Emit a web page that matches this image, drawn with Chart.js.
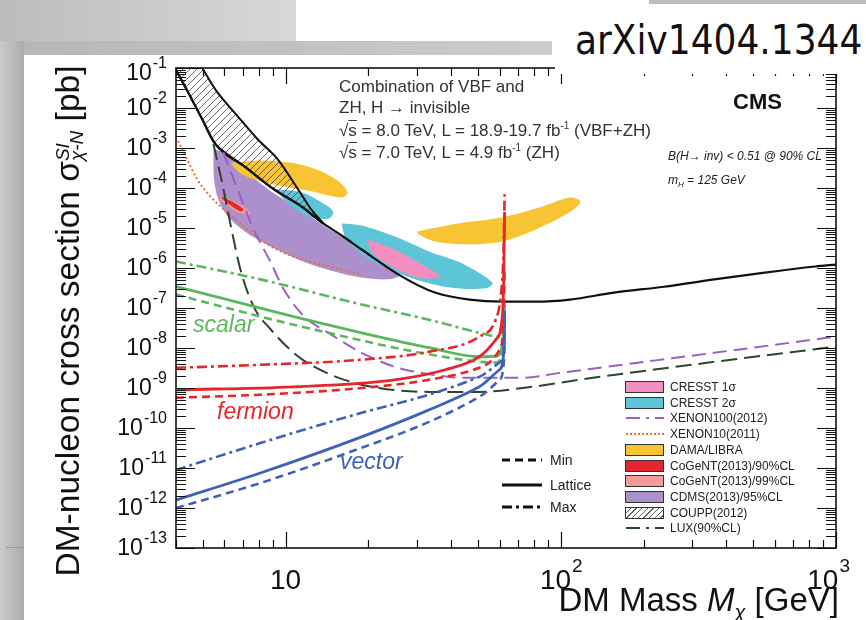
<!DOCTYPE html>
<html>
<head>
<meta charset="utf-8">
<script src="https://cdn.jsdelivr.net/npm/chart.js@4.4.0/dist/chart.umd.min.js"></script>
<style>
body{margin:0;width:866px;height:620px;position:relative;overflow:hidden;background:#fff;font-family:"Liberation Sans",Arial,sans-serif;color:#222;}
.abs{position:absolute;white-space:nowrap;}
.note{font-size:17px;color:#333;}
.lab{font-style:italic;font-size:23px;}
.leg{position:absolute;font-size:12px;color:#222;white-space:nowrap;}
.sw{position:absolute;width:37px;height:10px;border:1px solid #333;}
</style>
</head>
<body>
<div class="abs" style="left:0;top:0;width:296px;height:41px;background:linear-gradient(90deg,#bcbcbc,#d8d8d8)"></div>
<div class="abs" style="left:0;top:41px;width:552px;height:14px;background:linear-gradient(90deg,#b6b6b6,#cccccc)"></div>
<div class="abs" style="left:0;top:41px;width:24px;height:579px;background:linear-gradient(90deg,#cacaca,#acacac)"></div>
<div class="abs" style="left:6px;top:547px;width:18px;height:1px;background:#999"></div>

<canvas id="c" width="866" height="620" class="abs" style="left:0;top:0"></canvas>

<div class="abs" style="left:555px;top:0;width:311px;height:74px;background:#fff"></div>
<div class="abs" style="left:649px;top:0;width:217px;height:4px;background:#bdbdbd"></div>
<div class="abs" style="left:575px;top:17px;font-family:'DejaVu Sans Condensed','DejaVu Sans',sans-serif;font-stretch:condensed;font-size:40px;color:#111;">arXiv1404.1344</div>

<div class="abs note" style="left:339px;top:77px;">Combination of VBF and</div>
<div class="abs note" style="left:339px;top:98px;">ZH, H &rarr; invisible</div>
<div class="abs note" style="left:339px;top:120px;">&radic;<span style="text-decoration:overline">s</span> = 8.0 TeV, L = 18.9-19.7 fb<sup style="font-size:10px">-1</sup> (VBF+ZH)</div>
<div class="abs note" style="left:339px;top:142px;">&radic;<span style="text-decoration:overline">s</span> = 7.0 TeV, L = 4.9 fb<sup style="font-size:10px">-1</sup> (ZH)</div>
<div class="abs" style="left:733px;top:89px;font-size:22px;font-weight:bold;color:#111;">CMS</div>
<div class="abs" style="left:668px;top:149px;font-size:12px;font-style:italic;color:#222;">B(H&rarr; inv) &lt; 0.51 @ 90% CL</div>
<div class="abs" style="left:668px;top:173px;font-size:12px;font-style:italic;color:#222;">m<sub style="font-size:8px">H</sub> = 125 GeV</div>

<div class="abs lab" style="left:193px;top:311px;color:#5cb85c;">scalar</div>
<div class="abs lab" style="left:217px;top:398px;color:#e8262a;">fermion</div>
<div class="abs lab" style="left:340px;top:448px;color:#3f62b8;">vector</div>

<div class="abs" style="left:-212px;top:303px;width:560px;text-align:center;font-size:33.5px;line-height:36px;color:#111;transform:rotate(-90deg);">DM-nucleon cross section &sigma;<span style="display:inline-block;vertical-align:middle;line-height:14px;font-size:19px;font-style:italic;text-align:left;"><span style="display:block;">SI</span><span style="display:block;">&chi;-N</span></span> [pb]</div>
<div class="abs" style="right:27px;top:582px;font-size:33px;line-height:36px;color:#111;">DM Mass <i>M</i><sub style="font-size:20px;font-style:italic">&chi;</sub> [GeV]</div>

<div id="styleLegend"></div>
<div id="expLegend"></div>

<script>
// ---- data: [mass GeV, cross section pb] ----
const scalarMin = [[4,2.17e-7],[8.1,6.1e-8],[14.3,2.4e-8],[24.9,1.02e-8],[43.9,5.1e-9],[58,4.3e-9],[61.5,9.1e-9],[62.3,5e-8],[62.5,9e-8]];
const scalarLattice = [[4,3.44e-7],[6.15,1.62e-7],[10.7,6.1e-8],[18.9,2.4e-8],[33.2,1.02e-8],[50.6,6.05e-9],[58.9,6.4e-9],[61.6,1.5e-8],[62.3,4e-8],[62.5,1e-7]];
const scalarMax = [[4,1.46e-6],[8.1,5.2e-7],[18.9,1.22e-7],[33.2,5.1e-8],[50.6,2.4e-8],[59.9,1.92e-8],[62,4e-8],[62.5,1.2e-7]];

const fermionMin = [[4,5.7e-10],[8.1,6.8e-10],[18.9,1e-9],[33.2,1.6e-9],[50.6,3.2e-9],[59.9,9.1e-9],[62,5.1e-8],[62.5,1e-6]];
const fermionLattice = [[4,9e-10],[10.7,1.07e-9],[24.9,1.6e-9],[38,2.86e-9],[50.6,6.05e-9],[58,1.6e-8],[61.5,7.7e-8],[62.2,1.6e-6],[62.5,2.5e-5]];
const fermionMax = [[4,3.2e-9],[8.1,3.8e-9],[18.9,5.1e-9],[33.2,8.1e-9],[50.6,1.92e-8],[58,5.1e-8],[60.5,1.93e-7],[61.8,1.6e-6],[62.3,1.5e-5],[62.5,7e-5]];

const vectorMin = [[4,1e-12],[8.1,4.2e-12],[18.9,3.2e-11],[33.2,1.42e-10],[50.6,6e-10],[59.9,1.6e-9],[62.3,6e-9],[62.5,3e-8]];
const vectorLattice = [[4,1.58e-12],[8.1,7.5e-12],[18.9,6e-11],[33.2,2.84e-10],[50.6,1.07e-9],[59.9,2.86e-9],[62.3,1.08e-8],[62.5,8e-8]];
const vectorMax = [[4,8.9e-12],[8.1,4.2e-11],[18.9,2.4e-10],[33.2,6.8e-10],[50.6,1.9e-9],[59.9,4.3e-9],[62.3,1.5e-8],[62.5,1e-7]];

const luxLimit = [[5.47,1.25e-3],[5.9,1.24e-4],[6.31,1.23e-5],[6.86,9.1e-7],[7.66,1.08e-7],[8.84,2.9e-8],[10.7,7.6e-9],[12.7,3.4e-9],[16.4,1.6e-9],[21.8,1e-9],[33.2,8e-10],[50.6,8e-10],[72.8,1e-9],[131,1.8e-9],[361,4.5e-9],[1000,1.08e-8]];
const xenon100Limit = [[5.94,7.9e-4],[6.69,9.3e-5],[7.66,9.2e-6],[8.84,1.37e-6],[9.86,2.9e-7],[11.7,6.1e-8],[14.3,2.4e-8],[18.9,7.6e-9],[24.9,3.4e-9],[34.9,2.1e-9],[43.9,1.8e-9],[72.8,1.8e-9],[100,2.4e-9],[361,7.6e-9],[1000,1.92e-8]];
const xenon10Limit = [[4.07,1.5e-3],[4.39,5.2e-4],[4.78,1.65e-4],[5.33,6.2e-5],[6.15,2.46e-5],[7.28,9.2e-6],[8.84,3.5e-6],[10.7,1.94e-6],[14.3,1.09e-6],[18.9,6.9e-7]];
const couppLimit = [[4,9e-2],[4.5,1.99e-2],[5.02,4.7e-3],[5.56,1.25e-3],[7.16,3.3e-4],[9.07,9.3e-5],[11.4,3.5e-5],[13.7,1.3e-5],[16,6.5e-6],[18.9,2.9e-6],[26.5,6.1e-7],[34.9,2.43e-7],[46.6,1.62e-7],[61.5,1.44e-7],[81.2,1.44e-7],[108,1.62e-7],[156,2.43e-7],[237,3.4e-7],[361,5.2e-7],[551,7.7e-7],[840,1.09e-6],[1000,1.22e-6]];

const couppRegion = [[4.98,1e-1],[5.65,2.5e-2],[6.69,6.3e-3],[7.92,1.66e-3],[9.37,5.2e-4],[11.1,9.3e-5],[12.4,2.9e-5],[13.7,1.3e-5],[11.4,3.5e-5],[9.07,9.3e-5],[7.16,3.3e-4],[5.56,1.25e-3],[5.02,4.7e-3],[4.5,1.99e-2],[4,9e-2],[4,1e-1],[4.98,1e-1]];
const cdmsRegion = [[5.47,9.3e-4],[5.9,7.9e-4],[7.16,2.6e-4],[9.07,7.4e-5],[11.4,2.9e-5],[13.7,1.16e-5],[16.6,5.2e-6],[20.5,2.2e-6],[25.4,1.03e-6],[26,6.5e-7],[23.3,5.2e-7],[18.9,5.8e-7],[16,7.3e-7],[12.4,1.22e-6],[9.62,2.6e-6],[7.47,6.5e-6],[6.2,1.85e-5],[5.7,5.2e-5],[5.5,1.65e-4],[5.47,9.3e-4]];
const damaLowRegion = [[6.31,4.2e-4],[8.12,4.9e-4],[10.7,4.2e-4],[13.5,2.6e-4],[15.6,1.47e-4],[16.8,7.8e-5],[16,5.8e-5],[12.4,8.3e-5],[10.2,1.04e-4],[8.12,1.47e-4],[6.86,2.3e-4],[6.31,4.2e-4]];
const damaHighRegion = [[30,8.2e-6],[40.3,1.23e-5],[61.5,1.85e-5],[86.2,3.5e-5],[108,5.8e-5],[118,4.6e-5],[108,2.5e-5],[81.2,9.2e-6],[61.5,4.6e-6],[46.6,3.9e-6],[34.9,4.6e-6],[30.5,6.9e-6],[30,8.2e-6]];
const cresst2LowRegion = [[9.22,9.3e-5],[11.4,7.8e-5],[13.5,4.4e-5],[14.9,2.6e-5],[14.4,1.74e-5],[12.4,1.85e-5],[10.9,2.9e-5],[9.86,5.2e-5],[9.22,9.3e-5]];
const cresst2HighRegion = [[16,1.3e-5],[18.9,1.16e-5],[24.9,6.2e-6],[33.2,2.6e-6],[43.9,1.3e-6],[56.5,4.3e-7],[53.3,3.1e-7],[40.3,3.2e-7],[30.5,4.9e-7],[24.9,8.2e-7],[19.7,1.83e-6],[16.6,5.2e-6],[16,1.3e-5]];
const cresst1Region = [[19.7,5.2e-6],[24.9,2.9e-6],[31.3,1.22e-6],[36.5,6.1e-7],[31.3,5.5e-7],[25.4,9.2e-7],[20.9,2.2e-6],[19.7,5.2e-6]];
const cogent99Region = [[5.75,6.6e-5],[6.41,4.9e-5],[7.28,2.9e-5],[7.47,2.2e-5],[6.86,2.3e-5],[6.2,3.5e-5],[5.8,4.9e-5],[5.75,6.6e-5]];
const cogent90Region = [[5.85,6.2e-5],[6.58,4.1e-5],[7.04,2.9e-5],[6.86,2.6e-5],[6.31,3.7e-5],[5.9,5.2e-5],[5.85,6.2e-5]];

// ---- axes ----
const xMin = 4, xMax = 1000;
const yMin = 1e-13, yMax = 1e-1;
const yTickExps = [-1,-2,-3,-4,-5,-6,-7,-8,-9,-10,-11,-12,-13];
const xTickValues = [10, 100, 1000];
const xTickLabels = [['10',''],['10','2'],['10','3']];

const legendLabels = ['CRESST 1\u03c3','CRESST 2\u03c3','XENON100(2012)','XENON10(2011)','DAMA/LIBRA','CoGeNT(2013)/90%CL','CoGeNT(2013)/99%CL','CDMS(2013)/95%CL','COUPP(2012)','LUX(90%CL)'];
const styleLabels = ['Min','Lattice','Max'];

// ---- colours / styles ----
const green = '#5cb85c', red = '#e8262a', blue = '#3f62b8';
const dashMin = [8,5], dashMax = [10,4,3,4];

function pts(arr) { return arr.map(p => ({x: p[0], y: p[1]})); }

function curve(label, arr, color, width, dash, order) {
    return {
        label: label, data: pts(arr), borderColor: color, borderWidth: width,
        borderDash: dash, pointRadius: 0, fill: false, order: order,
        cubicInterpolationMode: 'monotone'
    };
}

function region(label, arr, color, order, border) {
    return {
        label: label, data: pts(arr), backgroundColor: color,
        borderColor: border || 'rgba(0,0,0,0)', borderWidth: border ? 2 : 0,
        pointRadius: 0, fill: 'shape', tension: 0.3, order: order
    };
}

// hatch for COUPP
const hc = document.createElement('canvas');
hc.width = 7; hc.height = 7;
const hx = hc.getContext('2d');
hx.strokeStyle = '#444'; hx.lineWidth = 0.8;
hx.beginPath();
hx.moveTo(0, 7); hx.lineTo(7, 0);
hx.moveTo(-1, 1); hx.lineTo(1, -1);
hx.moveTo(6, 8); hx.lineTo(8, 6);
hx.stroke();
const hatch = document.getElementById('c').getContext('2d').createPattern(hc, 'repeat');

const datasets = [
    curve('vector max', vectorMax, blue, 2.6, dashMax, 1),
    curve('vector min', vectorMin, blue, 2.6, dashMin, 1),
    curve('vector', vectorLattice, blue, 2.8, [], 1),
    curve('fermion max', fermionMax, red, 2.6, dashMax, 1),
    curve('fermion min', fermionMin, red, 2.6, dashMin, 1),
    curve('fermion', fermionLattice, red, 2.8, [], 1),
    curve('scalar max', scalarMax, green, 2.6, dashMax, 1),
    curve('scalar min', scalarMin, green, 2.6, dashMin, 1),
    curve('scalar', scalarLattice, green, 2.8, [], 1),
    curve('LUX(90%CL)', luxLimit, '#2c452c', 2, [16,7], 2),
    curve('XENON100(2012)', xenon100Limit, '#9b5fc2', 2, [14,7], 2),
    curve('XENON10(2011)', xenon10Limit, '#ec6a3c', 2, [2,2.5], 2),
    curve('COUPP limit', couppLimit, '#111', 2.2, [], 2),
    region('COUPP(2012)', couppRegion, hatch, 3, '#111'),
    region('CoGeNT(2013)/90%CL', cogent90Region, '#e52530', 4),
    region('CoGeNT(2013)/99%CL', cogent99Region, '#f49a9a', 5),
    region('CRESST 1\u03c3', cresst1Region, '#f28fc0', 6),
    region('CRESST 2\u03c3 high', cresst2HighRegion, '#5cc6d8', 7),
    region('CRESST 2\u03c3 low', cresst2LowRegion, '#5cc6d8', 7),
    region('DAMA/LIBRA high', damaHighRegion, '#f8c434', 8),
    region('DAMA/LIBRA low', damaLowRegion, '#f8c434', 8),
    region('CDMS(2013)/95%CL', cdmsRegion, '#ab90cc', 9)
];

// frame, inward ticks and tick labels
const axisDecor = {
    id: 'axisDecor',
    afterDatasetsDraw(chart) {
        const ctx = chart.ctx, a = chart.chartArea;
        const xs = chart.scales.x, ys = chart.scales.y;
        ctx.save();
        ctx.strokeStyle = '#111';
        ctx.lineWidth = 1.2;
        ctx.beginPath();
        for (let e = -13; e <= -1; e++) {
            for (let k = 1; k <= 9; k++) {
                if (e === -1 && k > 1) break;
                const py = Math.round(ys.getPixelForValue(k * Math.pow(10, e))) + 0.5;
                const len = k === 1 ? 19 : 10;
                ctx.moveTo(a.left, py); ctx.lineTo(a.left + len, py);
                ctx.moveTo(a.right, py); ctx.lineTo(a.right - len, py);
            }
        }
        for (let e = 0; e <= 3; e++) {
            for (let k = 1; k <= 9; k++) {
                const v = k * Math.pow(10, e);
                if (v < xMin || v > xMax) continue;
                const px = Math.round(xs.getPixelForValue(v)) + 0.5;
                const len = k === 1 ? 16 : 8;
                ctx.moveTo(px, a.bottom); ctx.lineTo(px, a.bottom - len);
                ctx.moveTo(px, a.top); ctx.lineTo(px, a.top + len);
            }
        }
        ctx.stroke();
        ctx.lineWidth = 1.6;
        ctx.strokeRect(a.left, a.top, a.right - a.left, a.bottom - a.top);

        ctx.fillStyle = '#111';
        ctx.textBaseline = 'middle';
        const right = 167;
        yTickExps.forEach(e => {
            let py = ys.getPixelForValue(Math.pow(10, e));
            if (e === -1) py += 5;
            ctx.font = '16px "Liberation Sans", Arial';
            const es = String(e);
            const we = ctx.measureText(es).width;
            ctx.textAlign = 'left';
            ctx.fillText(es, right - we, py - 9);
            ctx.font = '23px "Liberation Sans", Arial';
            ctx.textAlign = 'right';
            ctx.fillText('10', right - we - 1, py + 1);
        });
        xTickValues.forEach((v, i) => {
            const px = xs.getPixelForValue(v);
            const [b, ex] = xTickLabels[i];
            ctx.font = '28px "Liberation Sans", Arial';
            const wb = ctx.measureText(b).width;
            ctx.font = '19px "Liberation Sans", Arial';
            const we = ex ? ctx.measureText(ex).width : 0;
            let left = px - (wb + we) / 2;
            if (left + wb + we > 849) left = 849 - wb - we;
            ctx.textAlign = 'left';
            ctx.font = '28px "Liberation Sans", Arial';
            ctx.fillText(b, left, 581);
            if (ex) {
                ctx.font = '19px "Liberation Sans", Arial';
                ctx.fillText(ex, left + wb + 1, 567);
            }
        });
        ctx.restore();
    }
};

new Chart(document.getElementById('c'), {
    type: 'line',
    data: { datasets: datasets },
    options: {
        responsive: false,
        animation: false,
        devicePixelRatio: 1,
        layout: { padding: { left: 176, top: 68, right: 30, bottom: 72 } },
        scales: {
            x: { type: 'logarithmic', min: xMin, max: xMax, display: false },
            y: { type: 'logarithmic', min: yMin, max: yMax, display: false }
        },
        plugins: { legend: { display: false }, tooltip: { enabled: false } }
    },
    plugins: [axisDecor]
});

// ---- legends (HTML) ----
const legendSwatches = [
    {fill: '#f28fc0'}, {fill: '#5cc6d8'},
    {line: '#9b5fc2', dash: '14 6 3 6', w: 2}, {line: '#ec6a3c', dash: '2 2', w: 2},
    {fill: '#f8c434'}, {fill: '#e52530'}, {fill: '#f49a9a'}, {fill: '#ab90cc'},
    {hatch: true}, {line: '#2c452c', dash: '14 6 3 6', w: 2}
];
let html = '';
legendLabels.forEach((t, i) => {
    const cy = 387 + i * 15.7;
    const s = legendSwatches[i];
    if (s.fill) {
        html += `<div class="sw" style="left:625px;top:${cy - 6}px;background:${s.fill}"></div>`;
    } else if (s.hatch) {
        html += `<div class="sw" style="left:625px;top:${cy - 6}px;background:repeating-linear-gradient(135deg,#fff 0 3px,#666 3px 4px)"></div>`;
    } else {
        html += `<svg class="abs" style="left:625px;top:${cy - 5}px" width="40" height="10"><line x1="1" y1="5" x2="39" y2="5" stroke="${s.line}" stroke-width="${s.w}" stroke-dasharray="${s.dash}"/></svg>`;
    }
    html += `<div class="leg" style="left:670px;top:${cy - 7}px">${t}</div>`;
});
document.getElementById('expLegend').innerHTML = html;

const styleDash = ['8 5', '', '10 4 3 4'];
const styleY = [460, 485, 507];
let html2 = '';
styleLabels.forEach((t, i) => {
    html2 += `<svg class="abs" style="left:500px;top:${styleY[i] - 5}px" width="44" height="10"><line x1="2" y1="5" x2="42" y2="5" stroke="#111" stroke-width="3" stroke-dasharray="${styleDash[i]}"/></svg>`;
    html2 += `<div class="leg" style="left:550px;top:${styleY[i] - 8}px;font-size:14px">${t}</div>`;
});
document.getElementById('styleLegend').innerHTML = html2;
</script>
</body>
</html>
